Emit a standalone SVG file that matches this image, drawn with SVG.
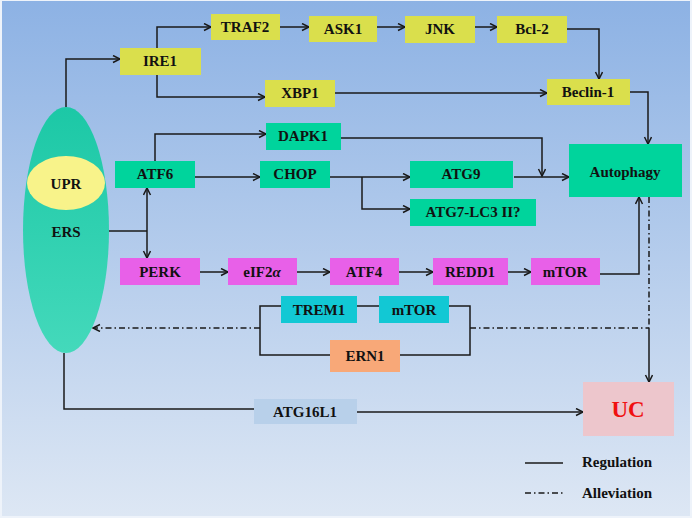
<svg xmlns="http://www.w3.org/2000/svg" width="692" height="518" viewBox="0 0 692 518">
<defs>
<linearGradient id="bg" x1="0" y1="0" x2="0" y2="1">
<stop offset="0" stop-color="#8db2e4"/>
<stop offset="1" stop-color="#dde7f4"/>
</linearGradient>
<linearGradient id="eg" x1="0" y1="0" x2="0" y2="1">
<stop offset="0" stop-color="#1cc8a6"/>
<stop offset="1" stop-color="#44d9bb"/>
</linearGradient>
<marker id="arr" markerWidth="10" markerHeight="10" refX="8" refY="4" orient="auto" markerUnits="userSpaceOnUse">
<path d="M1,0.5 L8,4 L1,7.5" fill="none" stroke="#1a1a1a" stroke-width="1.5"/>
</marker>
</defs>
<style>
.t{font-family:"Liberation Serif","Times New Roman",serif;font-weight:bold;font-size:15px;fill:#111;text-anchor:middle}
.c{fill:none;stroke:#1a1a1a;stroke-width:1.5}
.d{fill:none;stroke:#1a1a1a;stroke-width:1.5;stroke-dasharray:6 3 1.5 3}
.y{fill:#dadf4c}
.g{fill:#00d49c}
.m{fill:#e860e8}
.cy{fill:#12c8d4}
</style>
<rect x="0" y="0" width="692" height="518" fill="#eef3fa"/>
<rect x="2" y="1" width="688" height="515" fill="url(#bg)"/>

<g id="connectors">
<path class="c" d="M66,107 V59 H120" marker-end="url(#arr)"/>
<path class="c" d="M157,48 V27 H211" marker-end="url(#arr)"/>
<path class="c" d="M157,75 V97 H265" marker-end="url(#arr)"/>
<path class="c" d="M280,27 H309" marker-end="url(#arr)"/>
<path class="c" d="M377,27 H405" marker-end="url(#arr)"/>
<path class="c" d="M475,27 H497" marker-end="url(#arr)"/>
<path class="c" d="M567,29 H599 V79" marker-end="url(#arr)"/>
<path class="c" d="M335,93 H547" marker-end="url(#arr)"/>
<path class="c" d="M630,92 H648 V144" marker-end="url(#arr)"/>
<path class="c" d="M155,161 V134 H266" marker-end="url(#arr)"/>
<path class="c" d="M195,177 H260" marker-end="url(#arr)"/>
<path class="c" d="M341,138 H542 V176" marker-end="url(#arr)"/>
<path class="c" d="M330,177 H410" marker-end="url(#arr)"/>
<path class="c" d="M362,177 V209 H410" marker-end="url(#arr)"/>
<path class="c" d="M514,177 H569" marker-end="url(#arr)"/>
<path class="c" d="M108,231 H147"/>
<path class="c" d="M147,231 V188" marker-end="url(#arr)"/>
<path class="c" d="M147,231 V258" marker-end="url(#arr)"/>
<path class="c" d="M200,272 H228" marker-end="url(#arr)"/>
<path class="c" d="M297,272 H330" marker-end="url(#arr)"/>
<path class="c" d="M399,272 H433" marker-end="url(#arr)"/>
<path class="c" d="M508,272 H531" marker-end="url(#arr)"/>
<path class="c" d="M600,274 H639 V197" marker-end="url(#arr)"/>
<path class="d" d="M649,197 V328"/>
<path class="c" d="M649,328 V382" marker-end="url(#arr)"/>
<path class="c" d="M357,306 H379"/>
<path class="c" d="M281,306 H260 V355 H330"/>
<path class="c" d="M449,306 H470 V355 H400"/>
<path class="d" d="M260,328 H93" marker-end="url(#arr)"/>
<path class="d" d="M470,328 H649"/>
<path class="c" d="M64,353 V409 H254"/>
<path class="c" d="M357,412 H583" marker-end="url(#arr)"/>
</g>

<g id="ERS">
<ellipse cx="66" cy="230" rx="43" ry="123" fill="url(#eg)"/>
<text class="t" x="66" y="237">ERS</text>
</g>
<g id="UPR">
<ellipse cx="66" cy="183" rx="39" ry="27" fill="#f8f38a"/>
<text class="t" x="66" y="189">UPR</text>
</g>

<g id="IRE1"><rect class="y" x="120" y="48" width="81" height="27"/><text class="t" x="160" y="66">IRE1</text></g>
<g id="TRAF2"><rect class="y" x="211" y="14" width="69" height="26"/><text class="t" x="245" y="32">TRAF2</text></g>
<g id="ASK1"><rect class="y" x="309" y="16" width="68" height="26"/><text class="t" x="343" y="34">ASK1</text></g>
<g id="JNK"><rect class="y" x="405" y="16" width="70" height="27"/><text class="t" x="440" y="34">JNK</text></g>
<g id="Bcl-2"><rect class="y" x="497" y="16" width="70" height="27"/><text class="t" x="532" y="34">Bcl-2</text></g>
<g id="XBP1"><rect class="y" x="265" y="80" width="70" height="27"/><text class="t" x="300" y="98">XBP1</text></g>
<g id="Beclin-1"><rect class="y" x="547" y="79" width="83" height="26"/><text class="t" x="588" y="97">Beclin-1</text></g>

<g id="DAPK1"><rect class="g" x="266" y="123" width="75" height="27"/><text class="t" x="303" y="141">DAPK1</text></g>
<g id="ATF6"><rect class="g" x="115" y="161" width="80" height="27"/><text class="t" x="155" y="179">ATF6</text></g>
<g id="CHOP"><rect class="g" x="260" y="161" width="70" height="27"/><text class="t" x="295" y="179">CHOP</text></g>
<g id="ATG9"><rect class="g" x="410" y="161" width="103" height="27"/><text class="t" x="461" y="179">ATG9</text></g>
<g id="ATG7-LC3"><rect class="g" x="410" y="199" width="126" height="27"/><text class="t" x="473" y="217">ATG7-LC3 II?</text></g>
<g id="Autophagy"><rect class="g" x="569" y="144" width="113" height="53"/><text class="t" x="625" y="177">Autophagy</text></g>

<g id="PERK"><rect class="m" x="120" y="258" width="80" height="27"/><text class="t" x="160" y="277">PERK</text></g>
<g id="eIF2a"><rect class="m" x="228" y="258" width="69" height="27"/><text class="t" x="262" y="277">eIF2<tspan font-style="italic">α</tspan></text></g>
<g id="ATF4"><rect class="m" x="330" y="258" width="69" height="27"/><text class="t" x="364" y="277">ATF4</text></g>
<g id="REDD1"><rect class="m" x="433" y="258" width="75" height="27"/><text class="t" x="470" y="277">REDD1</text></g>
<g id="mTOR1"><rect class="m" x="531" y="258" width="69" height="27"/><text class="t" x="565" y="277">mTOR</text></g>

<g id="TREM1"><rect class="cy" x="281" y="296" width="76" height="27"/><text class="t" x="319" y="315">TREM1</text></g>
<g id="mTOR2"><rect class="cy" x="379" y="296" width="70" height="27"/><text class="t" x="414" y="315">mTOR</text></g>
<g id="ERN1"><rect x="330" y="340" width="70" height="32" fill="#f8a878"/><text class="t" x="365" y="361">ERN1</text></g>
<g id="ATG16L1"><rect x="254" y="399" width="103" height="25" fill="#b8d0ea"/><text class="t" x="305" y="417">ATG16L1</text></g>
<g id="UC"><rect x="583" y="382" width="91" height="54" fill="#edc6cc"/><text class="t" x="628" y="417" style="font-size:23px;fill:#f01010">UC</text></g>

<g id="legend">
<path class="c" d="M525,463 H563"/>
<text class="t" x="582" y="467" style="text-anchor:start">Regulation</text>
<path class="d" d="M525,493 H563"/>
<text class="t" x="582" y="498" style="text-anchor:start">Alleviation</text>
</g>
</svg>
